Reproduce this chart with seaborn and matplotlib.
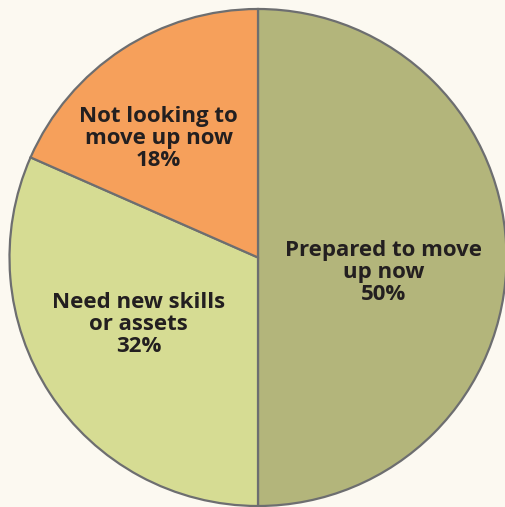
import matplotlib
matplotlib.use("Agg")
import matplotlib.pyplot as plt
import seaborn as sns

categories = ["Prepared to move\nup now", "Need new skills\nor assets", "Not looking to\nmove up now"]
values = [50, 31.6, 18.4]          # drawn slice sizes
colors = ["#b3b57b", "#d6dc93", "#f6a05b"]
# label centres (data units, pie radius = 1)
label_pos = [(0.505, -0.06), (-0.48, -0.27), (-0.40, 0.48)]

sns.set_theme(style="white")
plt.rcParams['font.family'] = ['Open Sans', 'DejaVu Sans']

W, H = 505, 507
fig = plt.figure(figsize=(W / 100, H / 100), dpi=100, facecolor="#fcf9f1")
cx, cy, r = 258, 257.5, 248.5
ax = fig.add_axes([(cx - r) / W, (H - cy - r) / H, 2 * r / W, 2 * r / H])
ax.set_facecolor("none")

wedges, _ = ax.pie(values, colors=colors, startangle=90, counterclock=False,
                   wedgeprops=dict(edgecolor="#6d6e70", linewidth=1.6))
for w in wedges:
    w.set_clip_on(False)
ax.set_xlim(-1, 1)
ax.set_ylim(-1, 1)
ax.set_aspect("equal")
ax.axis("off")

for cat, v, (x, y) in zip(categories, values, label_pos):
    ax.text(x, y, f"{cat}\n{round(v)}%", ha="center", va="center", fontsize=16,
            fontweight="bold", color="#231f20", linespacing=1.06)

fig.savefig("out.png", dpi=100, facecolor=fig.get_facecolor())
